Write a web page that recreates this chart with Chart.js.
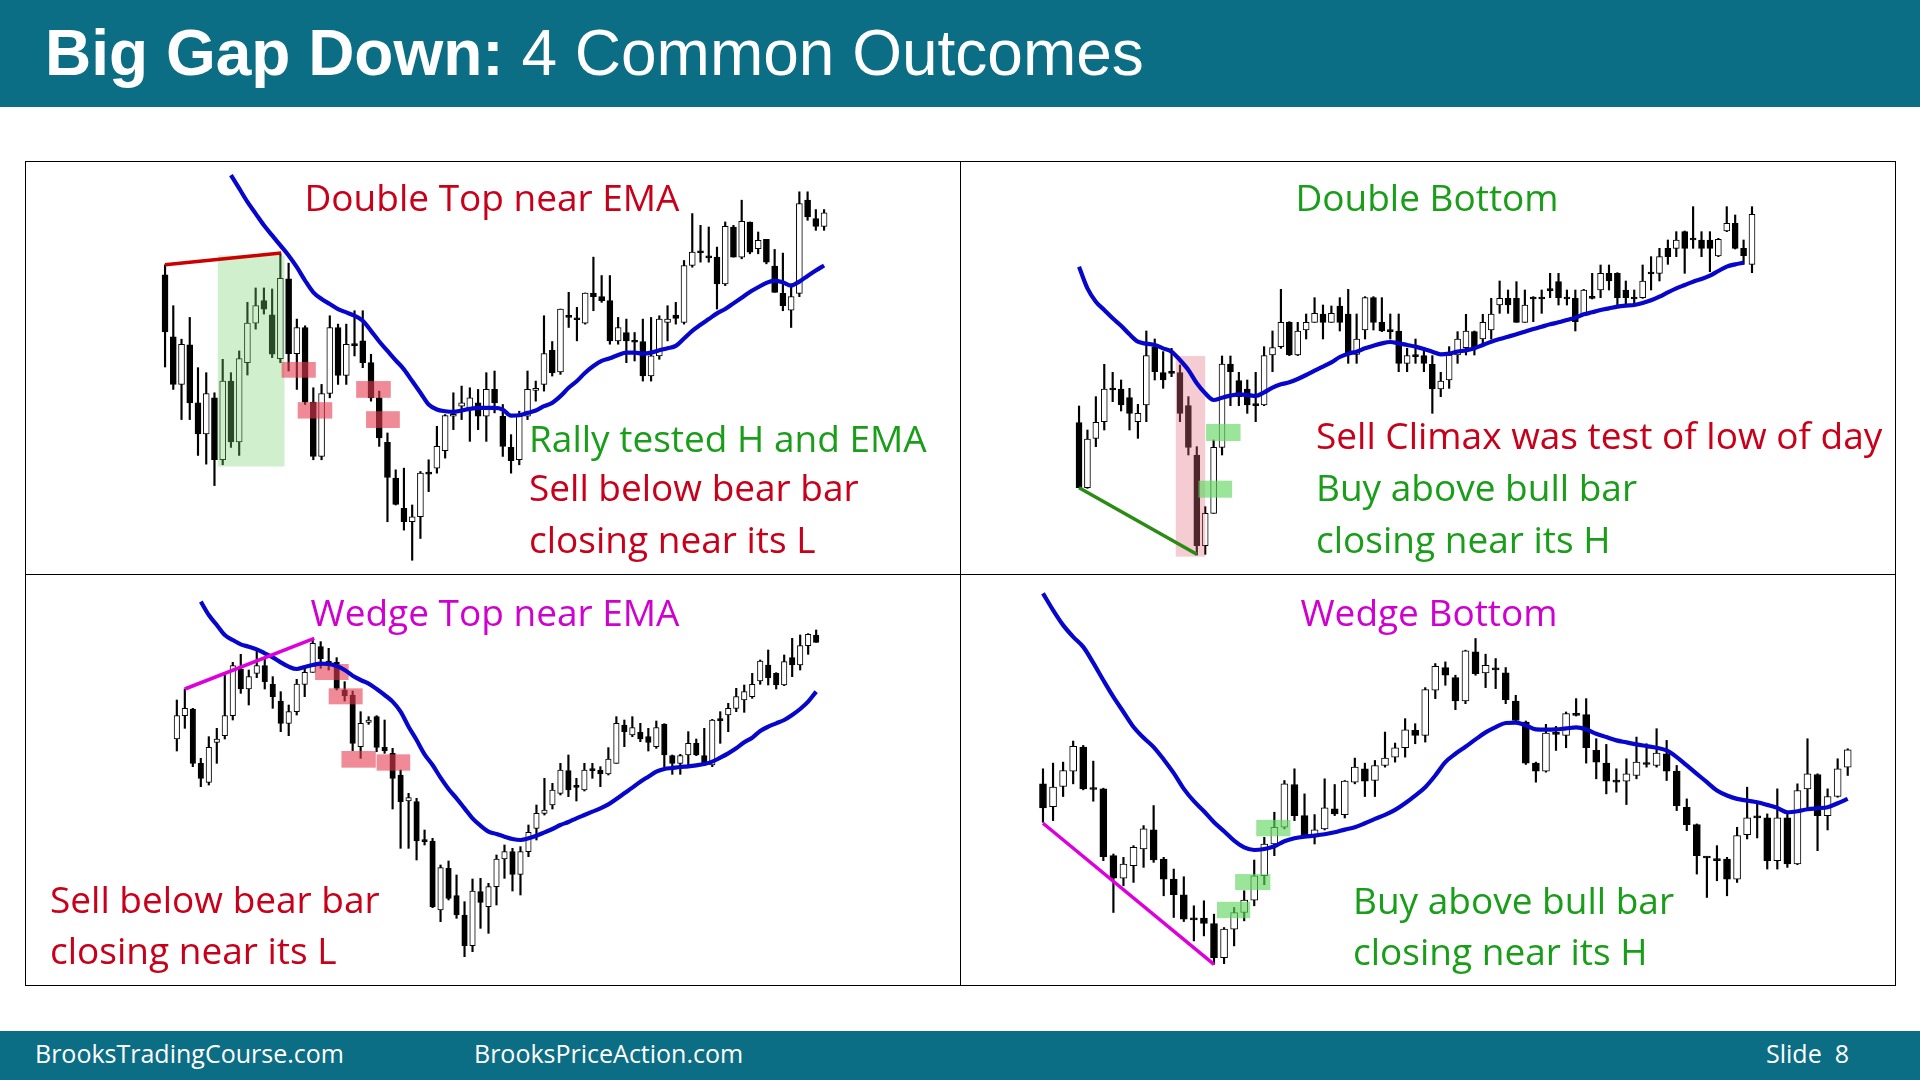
<!DOCTYPE html>
<html>
<head>
<meta charset="utf-8">
<title>Big Gap Down: 4 Common Outcomes</title>
<script src="https://cdn.jsdelivr.net/npm/chart.js@4.4.1/dist/chart.umd.min.js"></script>
<style>
    html, body { margin: 0; padding: 0; background: #fff; }
    #page { position: relative; width: 1920px; height: 1080px; overflow: hidden; font-family: "Open Sans", sans-serif; }
    #header { position: absolute; left: 0; top: 0; width: 1920px; height: 107px; background: #0c6e85; }
    #header .title { position: absolute; left: 45px; top: 21px; font-family: "Liberation Sans", Arial, sans-serif; font-size: 64px; line-height: 1; color: #fff; white-space: nowrap; }
    #footer { position: absolute; left: 0; top: 1031px; width: 1920px; height: 49px; background: #0c6e85; }
    #footer span { position: absolute; top: 22px; transform: translateY(-50%); color: #fff; font-size: 25px; white-space: nowrap; }
    canvas { position: absolute; }
    .frame { position: absolute; border: 1px solid #000; box-sizing: border-box; }
    .rule { position: absolute; background: #000; }
    .label { position: absolute; font-size: 37px; line-height: 1.36; white-space: nowrap; transform: translateY(-50%); }
</style>
</head>
<body>
<div id="page">
    <div id="header"><div class="title"><b>Big Gap Down:</b> 4 Common Outcomes</div></div>

    <canvas id="c1" width="935" height="413" style="left:25px;top:161px"></canvas>
    <canvas id="c2" width="935" height="413" style="left:960px;top:161px"></canvas>
    <canvas id="c3" width="935" height="412" style="left:25px;top:574px"></canvas>
    <canvas id="c4" width="935" height="412" style="left:960px;top:574px"></canvas>

    <div class="frame" style="left:25px;top:161px;width:1871px;height:825px"></div>
    <div class="rule" style="left:960px;top:161px;width:1px;height:825px"></div>
    <div class="rule" style="left:25px;top:574px;width:1871px;height:1px"></div>

    <div id="labels"></div>

    <div id="footer">
        <span style="left:35px">BrooksTradingCourse.com</span>
        <span style="left:474px">BrooksPriceAction.com</span>
        <span style="left:1766px">Slide&nbsp; 8</span>
    </div>
</div>

<script>
// ---- Panel 1: Double Top near EMA ----
const p1Open = [887,702,560,678,505,412,520,335,570,388, 625,743,810,768,637,875,652,730,507,345,
                533,730,587,680,690,625,520,387,280,190, 150,165,297,310,362,465,495,490,505,465,
                545,465,372,335,465,542,560,662,597,766, 757,743,833,822,810,690,715,690,688,585,
                645,745,767,745,915,957,942,940,860,1030, 940,1045,965,993,913,832,782,832,1110,1055,1032];
const p1High = [917,795,695,760,610,595,535,635,595,660, 805,848,848,845,950,922,755,735,550,560,
                765,740,740,780,780,650,540,415,305,310, 200,300,335,435,470,535,555,550,545,595,
                600,500,410,480,600,570,765,688,785,835, 790,833,940,885,885,760,755,715,755,760,
                765,795,805,930,1070,1035,1030,970,1045,1035, 1110,1045,1015,993,963,952,860,1135,1135,1082,1082];
const p1Low = [612,545,455,455,348,322,258,320,372,348, 588,725,770,640,625,600,545,500,335,335,
               520,560,560,645,610,510,375,150,200,125, 35,100,240,295,340,425,455,390,425,390,
               475,345,295,320,455,510,540,585,590,730, 690,740,780,805,680,680,625,630,570,570,
               635,690,740,740,910,925,925,785,855,940, 935,950,950,920,835,780,730,822,1050,1020,1020];
const p1Close = [717,560,680,505,412,533,335,570,388,637, 743,795,785,650,877,652,730,507,345,533,
                 730,587,680,676,625,520,400,282,202,150, 165,295,292,375,467,470,505,520,465,545,
                 505,375,332,465,545,548,652,595,785,760, 753,833,822,810,690,730,690,686,585,645,
                 755,755,757,915,955,953,938,860,1032,940, 1047,955,990,925,835,795,822,1100,1060,1032,1072];
const p1Ema = [null,null,null,null,null,null,null,null,1185,1145, 1105,1070,1035,1005,975,945,910,870,835,815,
               800,785,775,765,750,720,688,660,632,605, 570,535,500,485,480,478,482,487,490,490,
               490,485,467,468,475,482,495,505,525,550, 570,595,615,630,638,648,655,655,652,655,
               662,668,675,697,720,738,755,772,785,802, 819,836,850,863,870,865,855,867,884,900,915];
const p1Trend = [[1, 917], [15.1, 952]];
const p1GreenZone = [[7.4, 15.5, 315, 945]];
const p1RedZones = [[15.15, 19.3, 580, 627], [17.1, 21.3, 458, 507], [24.2, 28.4, 520, 570], [25.4, 29.5, 430, 480]];

// ---- Panel 2: Double Bottom ----
const p2Open = [517,322,470,520,620,618,592,520,570,745, 667,670,667,568,420,148,245,443,693,643,
                618,572,570,720,745,818,720,795,818,843, 818,867,843,722,795,892,818,795,792,695,
                720,718,692,618,645,720,742,790,768,795, 870,890,890,818,892,892,917,940,892,890,
                843,894,915,965,965,915,892,892,967,965, 1040,1040,1090,1069,1065,1065,1017,1092,1115,1040,992];
const p2High = [567,495,595,692,668,645,620,572,792,768, 730,740,690,595,445,265,465,717,717,668,
                645,668,745,792,917,820,818,843,892,870, 867,892,917,843,895,895,892,843,843,740,
                768,740,718,668,745,790,842,792,842,890, 942,915,940,915,895,915,965,965,915,915,
                917,965,990,990,967,942,915,990,1015,1040, 1065,1090,1092,1165,1090,1090,1070,1165,1140,1065,1165];
const p2Low = [322,320,445,495,580,552,495,470,520,645, 620,655,520,420,120,122,245,420,568,568,
               545,520,568,670,740,718,718,768,818,768, 818,792,695,695,768,795,790,768,670,670,
               695,670,545,595,620,695,720,720,745,768, 845,845,818,818,820,845,892,870,870,792,
               840,888,892,915,870,870,870,890,915,942, 992,1015,965,1040,1015,970,1015,1090,1038,992,967];
const p2Close = [322,468,518,618,615,570,545,545,718,670, 645,665,545,443,148,245,443,693,670,595,
                 570,568,718,742,818,720,792,818,845,818, 845,818,722,768,892,818,792,790,695,718,
                 715,695,618,642,720,768,792,742,818,843, 890,870,818,870,888,888,913,892,888,820,
                 915,890,965,942,892,892,888,942,963,1015, 1015,1065,1040,1065,1040,1040,1067,1115,1040,1018,1142];
const p2Ema = [985,920,880,855,830,808,782,760,754,750, 740,730,705,675,635,605,585,592,598,602,
               600,597,608,622,632,638,648,660,673,685, 698,714,724,730,740,748,755,759,755,750,
               745,738,730,722,724,730,734,740,750,760, 768,775,782,790,798,805,812,818,825,832,
               842,848,855,860,865,868,870,876,884,895, 908,920,930,940,948,958,972,985,992,997,null];
const p2Trend = [[1, 322], [15, 122]];
const p2PinkZone = [[12.5, 16.0, 115, 717]];
const p2GreenZones = [[16.1, 20.2, 462, 513], [15.2, 19.2, 292, 343]];

// ---- Panel 3: Wedge Top near EMA ----
const p3Open = [738,808,828,665,608,728,748,808,948,888, 935,958,902,852,785,820,902,938,1015,970,
                968,885,870,715,788,805,713,695,630,552, 550,434,432,225,350,268,210,118,280,235,
                295,378,400,332,400,470,515,540,575,643, 597,585,647,645,633,665,780,750,758,745,
                715,782,688,665,690,725,688,660,797,810, 830,855,865,912,960,935,900,982,960,1018,1050];
const p3High = [855,888,830,680,745,770,930,968,992,945, 1005,978,925,880,840,917,955,1040,1030,1010,
                982,910,882,820,805,808,795,710,645,575, 560,465,440,360,372,330,250,318,320,305,
                390,420,410,415,480,540,620,605,665,690, 620,665,665,655,712,805,795,805,785,770,
                792,784,690,692,760,738,770,797,820,845, 890,900,935,975,1005,937,990,1040,1050,1054,1065];
const p3Low = [702,770,655,595,600,665,738,795,875,840, 922,888,830,760,748,810,865,938,950,945,
               885,852,703,680,782,700,695,528,410,410, 375,420,232,190,255,200,85,100,170,155,
               240,320,282,270,385,435,510,528,570,565, 552,582,620,595,630,665,715,745,730,702,
               710,655,632,632,660,688,658,655,725,760, 820,818,860,902,900,888,898,925,945,992,1028];
const p3Close = [808,830,665,620,713,738,808,958,888,925, 958,910,865,785,820,903,938,1025,978,966,
                 890,867,725,785,795,713,702,620,550,562, 432,430,235,352,260,210,118,282,248,295,
                 378,400,332,400,458,515,525,585,645,585, 593,645,643,633,678,785,760,772,738,728,
                 772,690,665,688,725,690,660,795,793,830, 865,880,902,972,922,900,970,960,1018,1052,1028];
const p3Ema = [null,null,null,1150,1110,1080,1050,1035,1022,1015, 1007,995,983,968,955,948,954,960,964,963,
               957,945,928,915,904,888,870,850,820,775, 735,692,660,622,588,560,530,500,478,460,
               453,445,438,435,440,448,458,468,480,489, 500,510,520,530,542,558,575,592,610,625,
               640,648,651,654,656,659,663,670,682,695, 710,728,742,762,775,785,795,810,828,850,880];
const p3Trend = [[2, 888], [18.2, 1040]];
const p3RedZones = [[18.3, 22.5, 915, 963], [20.0, 24.25, 842, 890], [21.6, 25.9, 652, 702], [26.0, 30.2, 643, 692]];

// ---- Panel 4: Wedge Bottom ----
const p4Open = [590,522,582,628,700,577,575,375,308,345, 395,452,365,305,258,187,188,172,70,155,
                205,242,315,410,460,588,495,432,455,515, 498,595,635,600,645,670,698,750,735,870,
                938,908,838,985,922,935,922,838,775,652, 628,745,735,799,797,690,652,599,598,615,
                652,645,680,628,520,468,372,364,365,305, 438,492,488,360,488,350,575,618,495,552,640];
const p4High = [635,652,655,718,705,658,577,380,370,405, 465,525,370,335,312,225,240,200,160,220,
                270,362,430,505,600,635,560,498,605,588, 600,667,652,660,745,712,785,770,878,950,
                955,915,990,1025,978,965,938,855,778,655, 768,762,805,845,845,725,708,635,665,730,
                710,755,720,645,545,470,372,405,370,460, 580,532,500,575,500,590,725,620,575,665,695];
const p4Low = [475,480,552,590,572,538,360,205,285,295, 340,355,255,190,178,120,135,50,52,105,
               180,225,288,375,455,480,430,410,452,495, 488,590,552,552,640,655,670,710,715,845,
               885,812,830,915,878,875,830,778,648,595, 625,690,698,793,652,605,560,565,528,605,
               640,640,600,510,450,320,250,300,255,295, 425,428,335,335,340,348,510,390,452,550,615];
const p4Close = [518,580,630,702,575,573,372,308,350,400, 455,362,305,258,185,183,172,70,155,205,
                 242,315,410,460,590,495,432,452,518,500, 598,640,598,645,667,698,752,735,872,942,
                 915,838,988,920,945,931,842,780,652,628, 742,738,800,795,698,655,598,595,620,655,
                 648,682,628,525,468,375,368,360,305,435, 488,488,360,488,350,570,620,495,552,635,692];
const p4Ema = [1160,1110,1065,1030,1000,952,900,850,805,760, 728,700,663,622,575,538,508,475,448,420,
               400,392,395,403,418,427,432,435,439,445, 453,460,472,485,497,512,532,555,580,615,
               655,680,701,723,744,760,772,773,765,753, 752,753,756,759,753,740,730,720,714,708,
               703,698,690,670,645,620,595,570,555,545, 540,535,527,518,505,508,514,517,520,532,545];
const p4Trend = [[1, 472], [18, 50]];
const p4GreenZones = [[18.3, 21.6, 188, 237], [20.1, 23.6, 272, 320], [22.2, 25.6, 433, 482]];

// Colours
const RED = '#c8001a';
const GREEN = '#1a9e1a';
const MAGENTA = '#d000d0';
const EMA_BLUE = '#0606cc';

// Shaded boxes drawn right after the candle bodies, under the EMA line
const zonePlugin = {
    id: 'zones',
    afterDatasetDraw(chart, args, opts) {
        if (chart.data.datasets[args.index].label !== 'bodies') return;
        const { ctx, scales: { x, y } } = chart;
        (opts.sets || []).forEach(function(set) {
            ctx.save();
            ctx.fillStyle = set.color;
            set.boxes.forEach(function(b) {
                const x1 = x.getPixelForValue(b[0]);
                const x2 = x.getPixelForValue(b[1]);
                const y1 = y.getPixelForValue(b[3]);
                const y2 = y.getPixelForValue(b[2]);
                ctx.fillRect(x1, y1, x2 - x1, y2 - y1);
            });
            ctx.restore();
        });
    }
};

function drawPanel(p) {
    const bodies = p.open.map((o, i) => ({ x: i + 1, y: [o, p.close[i]] }));
    const wicks = p.low.map((l, i) => ({ x: i + 1, y: [l, p.high[i]] }));
    const ema = p.ema.map((v, i) => ({ x: i + 1, y: v }));
    const trend = p.trend.map(pt => ({ x: pt[0], y: pt[1] }));

    new Chart(document.getElementById(p.id), {
        type: 'bar',
        data: {
            datasets: [
                {
                    type: 'line', label: 'trend', data: trend,
                    borderColor: p.trendColor, borderWidth: 3.5, pointRadius: 0, order: 0
                },
                {
                    type: 'line', label: 'ema', data: ema,
                    borderColor: EMA_BLUE, borderWidth: 4.2, pointRadius: 0,
                    tension: 0.4, cubicInterpolationMode: 'monotone', order: 1
                },
                {
                    label: 'bodies', data: bodies,
                    backgroundColor: bodies.map(b => b.y[1] >= b.y[0] ? '#ffffff' : '#000000'),
                    borderColor: '#000', borderWidth: 1, borderSkipped: false,
                    barThickness: p.bodyWidth, minBarLength: 2, grouped: false, order: 2
                },
                {
                    label: 'wicks', data: wicks,
                    backgroundColor: '#000', borderWidth: 0,
                    barThickness: 1.5, grouped: false, order: 3
                }
            ]
        },
        options: {
            responsive: false,
            animation: false,
            layout: { padding: 0 },
            scales: {
                x: { type: 'linear', min: p.xMin, max: p.xMax, offset: false, display: false },
                y: { min: p.yMin, max: p.yMax, display: false }
            },
            plugins: {
                legend: { display: false },
                tooltip: { enabled: false },
                zones: { sets: p.zones }
            }
        },
        plugins: [zonePlugin]
    });
}

const panels = [
    { id: 'c1', open: p1Open, high: p1High, low: p1Low, close: p1Close, ema: p1Ema,
      trend: p1Trend, trendColor: '#cc0000', bodyWidth: 6,
      zones: [{ boxes: p1GreenZone, color: 'rgba(120,210,110,0.35)' },
              { boxes: p1RedZones, color: 'rgba(230,60,80,0.6)' }],
      xMin: -16.0, xMax: 97.5, yMin: -6, yMax: 1227 },
    { id: 'c2', open: p2Open, high: p2High, low: p2Low, close: p2Close, ema: p2Ema,
      trend: p2Trend, trendColor: '#2a8c14', bodyWidth: 6,
      zones: [{ boxes: p2PinkZone, color: 'rgba(225,110,125,0.35)' },
              { boxes: p2GreenZones, color: 'rgba(100,215,100,0.65)' }],
      xMin: -13.15, xMax: 98.0, yMin: 63, yMax: 1302 },
    { id: 'c3', open: p3Open, high: p3High, low: p3Low, close: p3Close, ema: p3Ema,
      trend: p3Trend, trendColor: '#dd00dd', bodyWidth: 5.5,
      zones: [{ boxes: p3RedZones, color: 'rgba(230,60,80,0.6)' }],
      xMin: -18.0, xMax: 99.0, yMin: -3, yMax: 1233 },
    { id: 'c4', open: p4Open, high: p4High, low: p4Low, close: p4Close, ema: p4Ema,
      trend: p4Trend, trendColor: '#dd00dd', bodyWidth: 7,
      zones: [{ boxes: p4GreenZones, color: 'rgba(100,215,100,0.65)' }],
      xMin: -7.25, xMax: 85.7, yMin: -15, yMax: 1218 }
];

panels.forEach(drawPanel);

// Slide texts
const labels = [
    { text: 'Double Top near EMA', x: 492, y: 197, color: RED, center: true },
    { text: 'Rally tested H and EMA', x: 529, y: 438, color: GREEN },
    { text: 'Sell below bear bar', x: 529, y: 487, color: RED },
    { text: 'closing near its L', x: 529, y: 539, color: RED },
    { text: 'Double Bottom', x: 1427, y: 197, color: GREEN, center: true },
    { text: 'Sell Climax was test of low of day', x: 1316, y: 435, color: RED },
    { text: 'Buy above bull bar', x: 1316, y: 487, color: GREEN },
    { text: 'closing near its H', x: 1316, y: 539, color: GREEN },
    { text: 'Wedge Top near EMA', x: 495, y: 612, color: MAGENTA, center: true },
    { text: 'Sell below bear bar', x: 50, y: 899, color: RED },
    { text: 'closing near its L', x: 50, y: 950, color: RED },
    { text: 'Wedge Bottom', x: 1429, y: 612, color: MAGENTA, center: true },
    { text: 'Buy above bull bar', x: 1353, y: 900, color: GREEN },
    { text: 'closing near its H', x: 1353, y: 951, color: GREEN }
];

const holder = document.getElementById('labels');
labels.forEach(function(l) {
    const el = document.createElement('div');
    el.className = 'label';
    el.textContent = l.text;
    el.style.color = l.color;
    el.style.left = l.x + 'px';
    el.style.top = l.y + 'px';
    if (l.center) el.style.transform = 'translate(-50%, -50%)';
    holder.appendChild(el);
});
</script>
</body>
</html>
